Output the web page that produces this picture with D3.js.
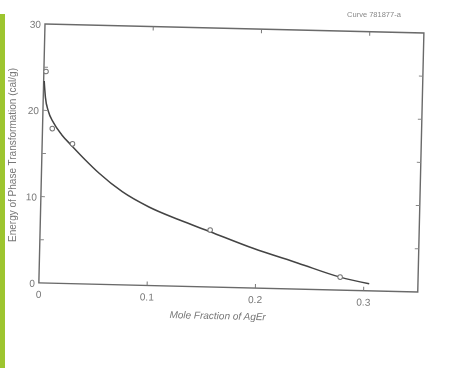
<!DOCTYPE html>
<html>
<head>
<meta charset="utf-8">
<script src="https://cdn.jsdelivr.net/npm/d3@7"></script>
<style>
  body { margin: 0; background: #fff; }
  #chart svg { display: block; }
</style>
</head>
<body>
<div id="chart"></div>
<script>
// curve
const curveX = [0.0005, 0.002, 0.005, 0.01, 0.018, 0.028, 0.04, 0.053, 0.075, 0.1, 0.128, 0.157, 0.197, 0.239, 0.278, 0.305];
const curveY = [23.4, 21.5, 19.9, 18.6, 17.2, 15.9, 14.4, 12.9, 10.8, 9.1, 7.7, 6.4, 4.6, 3.0, 1.5, 0.8];

// measured points (open circles)
const pointX = [0.002, 0.009, 0.028, 0.157, 0.278];
const pointY = [24.5, 17.9, 16.2, 6.6, 1.5];

const xTicks = [0, 0.1, 0.2, 0.3];
const xTickLabels = ["0", "0.1", "0.2", "0.3"];
const yTicks = [0, 10, 20, 30];
const yMinor = [5, 15, 25];

const W = 452, H = 368;
const ox = 45, oy = 24, pw = 379, ph = 259, angle = 1.36;

const svg = d3.select("#chart").append("svg")
  .attr("width", W).attr("height", H);

// green strip at the left
svg.append("rect")
  .attr("x", 0).attr("y", 14).attr("width", 5).attr("height", H - 14)
  .attr("fill", "#9dc52f");

const ink = svg.append("g").style("filter", "blur(0.35px)");

// the scan is a little rotated
const g = ink.append("g")
  .attr("transform", `translate(${ox},${oy}) rotate(${angle})`);

const x = d3.scaleLinear().domain([0, 0.35]).range([0, pw]);
const y = d3.scaleLinear().domain([0, 30]).range([ph, 0]);

// frame
g.append("rect")
  .attr("x", 0).attr("y", 0).attr("width", pw).attr("height", ph)
  .attr("fill", "none").attr("stroke", "#6a6a6a").attr("stroke-width", 1.4);

// inward ticks
const tickLen = 4;
g.selectAll(".tb").data(xTicks.slice(1)).enter().append("line")
  .attr("x1", d => x(d)).attr("x2", d => x(d))
  .attr("y1", ph).attr("y2", ph - tickLen)
  .attr("stroke", "#777").attr("stroke-width", 1);
g.selectAll(".tt").data(xTicks.slice(1)).enter().append("line")
  .attr("x1", d => x(d)).attr("x2", d => x(d))
  .attr("y1", 0).attr("y2", tickLen)
  .attr("stroke", "#777").attr("stroke-width", 1);
g.selectAll(".tl").data(yMinor.concat([10, 20])).enter().append("line")
  .attr("x1", 0).attr("x2", tickLen)
  .attr("y1", d => y(d)).attr("y2", d => y(d))
  .attr("stroke", "#888").attr("stroke-width", 1);
g.selectAll(".tr").data(yMinor.concat([10, 20])).enter().append("line")
  .attr("x1", pw).attr("x2", pw - tickLen)
  .attr("y1", d => y(d)).attr("y2", d => y(d))
  .attr("stroke", "#888").attr("stroke-width", 1);

// tick labels
g.selectAll(".xl").data(xTicks).enter().append("text")
  .attr("x", d => x(d)).attr("y", ph + 15)
  .attr("text-anchor", "middle")
  .attr("font-family", "Liberation Sans, Arial, sans-serif")
  .attr("font-size", 10).attr("fill", "#777")
  .text((d, i) => xTickLabels[i]);

g.selectAll(".yl").data(yTicks).enter().append("text")
  .attr("x", -4).attr("y", d => y(d) + 4)
  .attr("text-anchor", "end")
  .attr("font-family", "Liberation Sans, Arial, sans-serif")
  .attr("font-size", 10).attr("fill", "#777")
  .text(d => d);

// curve
const pts = curveX.map((v, i) => [v, curveY[i]]);
g.append("path")
  .datum(pts)
  .attr("fill", "none").attr("stroke", "#444").attr("stroke-width", 1.5)
  .attr("d", d3.line().x(d => x(d[0])).y(d => y(d[1])).curve(d3.curveMonotoneX));

// points
g.selectAll(".pt").data(pointX).enter().append("circle")
  .attr("cx", d => x(d)).attr("cy", (d, i) => y(pointY[i]))
  .attr("r", 2.3)
  .attr("fill", "#fff").attr("stroke", "#777").attr("stroke-width", 1);

// axis titles
g.append("text")
  .attr("x", pw / 2 - 10).attr("y", ph + 32)
  .attr("text-anchor", "middle")
  .attr("font-family", "Liberation Sans, Arial, sans-serif")
  .attr("font-size", 10).attr("font-style", "italic").attr("fill", "#777")
  .text("Mole Fraction of AgEr");

ink.append("text")
  .attr("transform", "translate(16,155) rotate(-90)")
  .attr("text-anchor", "middle")
  .attr("font-family", "Liberation Sans, Arial, sans-serif")
  .attr("font-size", 10).attr("fill", "#777")
  .text("Energy of Phase Transformation (cal/g)");

ink.append("text")
  .attr("x", 374).attr("y", 17)
  .attr("text-anchor", "middle")
  .attr("font-family", "Liberation Sans, Arial, sans-serif")
  .attr("font-size", 7.5).attr("fill", "#888")
  .text("Curve 781877-a");
</script>
</body>
</html>
